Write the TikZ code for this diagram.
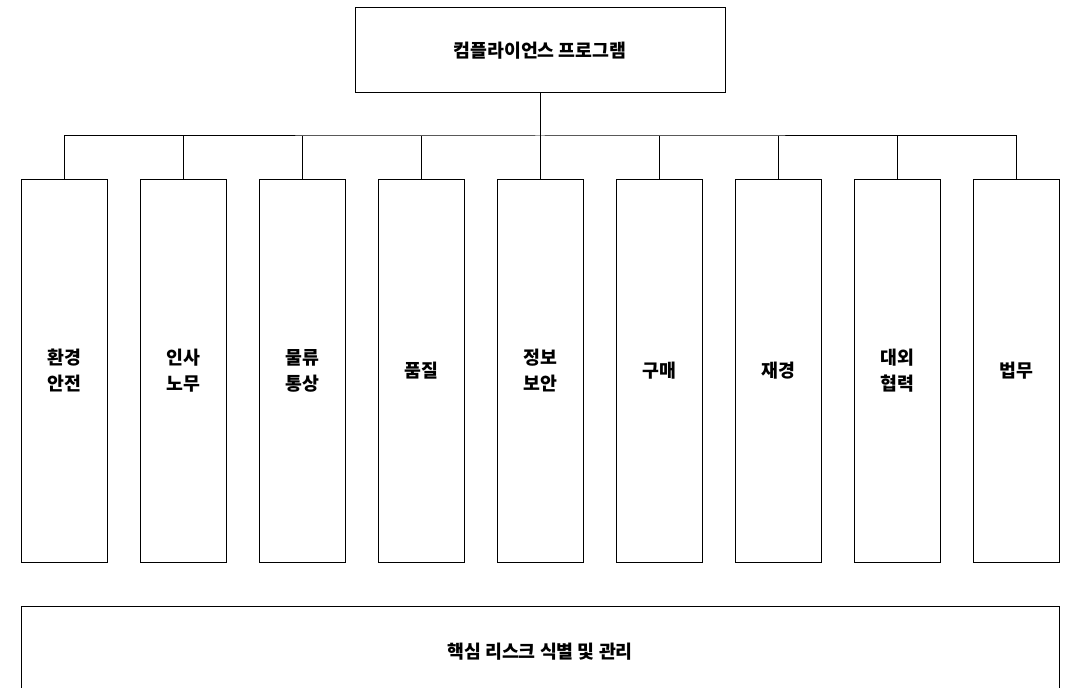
\documentclass[tikz,border=0pt]{standalone}
\usepackage{fontspec}
\usepackage{tikz}
\usetikzlibrary{positioning}
\newfontfamily\kr{Noto Sans CJK KR}

\begin{document}
\begin{tikzpicture}[x=0.75pt,y=-0.75pt,
    box/.style={draw, line width=0.75pt, inner sep=0pt, align=center,
      font=\kr\bfseries\fontsize{13.75}{19.5}\selectfont},
    part/.style={box, minimum width=64.5pt, minimum height=287.25pt},
    link/.style={line width=0.75pt}]
        \useasboundingbox (0,0) rectangle (1070,688);
        \node[box, minimum width=277.5pt, minimum height=63.75pt] (top) at (540,50.5) {컴플라이언스 프로그램};
        \coordinate (bus) at (540,136);
        % compliance areas
        \foreach \i/\name in {1/환경\\안전, 2/인사\\노무, 3/물류\\통상, 4/품질, 5/정보\\보안, 6/구매, 7/재경, 8/대외\\협력, 9/법무}
            \node[part] (b\i) at ({64+119*(\i-1)},370.5) {\name};
        \node[box, minimum width=778.5pt, minimum height=69pt] (risk) at (540,652) {핵심 리스크 식별 및 관리};
        % connectors
        \draw[link] (top.south) -- (bus);
        \draw[link] (b1.north) |- (bus) -| (b9.north);
        \foreach \i in {2,...,8} \draw[link] (b\i.north) -- (b\i.north |- bus);
    \end{tikzpicture}
\end{document}
